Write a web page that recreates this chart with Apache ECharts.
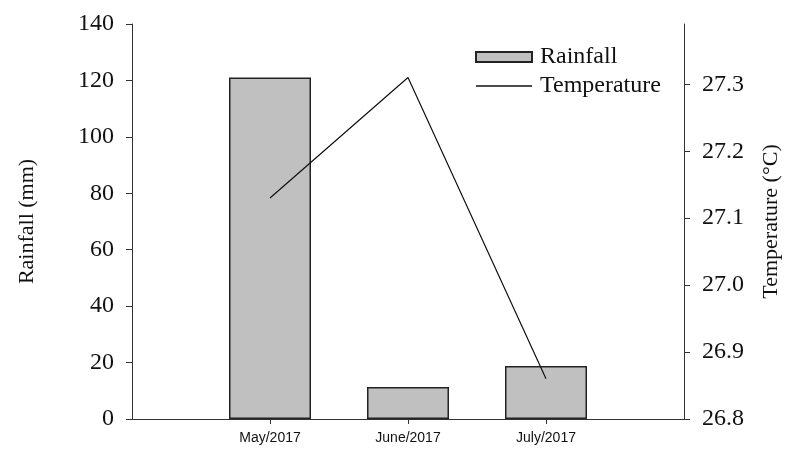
<!DOCTYPE html>
<html>
<head>
<meta charset="utf-8">
<script src="https://cdn.jsdelivr.net/npm/echarts@6/dist/echarts.min.js"></script>
<style>
  html, body { margin: 0; padding: 0; background: #fff; }
  #chart { width: 786px; height: 450px; }
</style>
</head>
<body>
<div id="chart"></div>
<script>
// empty slots at both ends keep the months at 1/4, 2/4, 3/4 of the width
const months = ['', 'May/2017', 'June/2017', 'July/2017', '']
const rainfall = ['-', 121, 11.3, 18.8, '-']
const temperature = ['-', 27.13, 27.31, 26.86, '-']
const tempTicks = [26.8, 26.9, 27.0, 27.1, 27.2, 27.3]

const serif = '"Liberation Serif", "Times New Roman", serif'
const sans = '"Liberation Sans", Arial, sans-serif'
const axisColor = '#333'

const chart = echarts.init(document.getElementById('chart'))
const option = {
  animation: false,
  backgroundColor: '#fff',
  grid: {
    left: 132,
    right: 102,
    top: 24,
    bottom: 31,
    containLabel: false,
    outerBoundsMode: 'none',
  },
  legend: {
    orient: 'vertical',
    left: 470,
    top: 40,
    itemWidth: 56,
    itemHeight: 10,
    itemGap: 5,
    textStyle: {
      fontFamily: serif,
      fontSize: 24,
      color: '#111',
      padding: [0, 0, 0, 3],
      lineHeight: 24,
    },
    data: [
      { name: 'Rainfall', icon: 'rect' },
      // thin bar as a plain line, no marker dot
      { name: 'Temperature', icon: 'path://M0,0 H56 V1.4 H0 Z' },
    ],
  },
  xAxis: {
    type: 'category',
    data: months,
    boundaryGap: false,
    axisLine: { lineStyle: { color: axisColor, width: 1 } },
    axisTick: {
      show: true,
      length: 5,
      interval: (idx) => idx > 0 && idx < months.length - 1,
      lineStyle: { color: axisColor },
    },
    axisLabel: {
      interval: 0,
      margin: 12,
      fontFamily: sans,
      fontSize: 14,
      color: '#111',
    },
    splitLine: { show: false },
  },
  yAxis: [
    {
      type: 'value',
      min: 0,
      max: 140,
      interval: 20,
      position: 'left',
      name: 'Rainfall (mm)',
      nameLocation: 'middle',
      nameGap: 94,
      nameTextStyle: { fontFamily: serif, fontSize: 22, color: '#111' },
      axisLine: { show: true, lineStyle: { color: axisColor } },
      axisTick: { show: true, inside: false, length: 6, lineStyle: { color: axisColor } },
      axisLabel: { margin: 18, fontFamily: serif, fontSize: 24, color: '#111' },
      splitLine: { show: false },
    },
    {
      type: 'value',
      min: 26.8,
      max: 27.39,
      position: 'right',
      name: 'Temperature (°C)',
      nameLocation: 'middle',
      nameGap: 76,
      nameRotate: 90,
      nameTextStyle: { fontFamily: serif, fontSize: 22, color: '#111' },
      axisLine: { show: true, lineStyle: { color: axisColor } },
      axisTick: {
        show: true,
        inside: false,
        length: 6,
        customValues: tempTicks,
        lineStyle: { color: axisColor },
      },
      axisLabel: {
        margin: 18,
        fontFamily: serif,
        fontSize: 24,
        color: '#111',
        customValues: tempTicks,
        formatter: (v) => v.toFixed(1),
      },
      splitLine: { show: false },
    },
  ],
  series: [
    {
      name: 'Rainfall',
      type: 'bar',
      yAxisIndex: 0,
      barWidth: 82,
      itemStyle: {
        color: '#c0c0c0',
        borderColor: '#222',
        borderWidth: 1.5,
      },
      data: rainfall,
    },
    {
      name: 'Temperature',
      type: 'line',
      yAxisIndex: 1,
      symbol: 'none',
      lineStyle: { color: '#111', width: 1.2 },
      itemStyle: { color: '#111' },
      data: temperature,
    },
  ],
}
chart.setOption(option)
</script>
</body>
</html>
